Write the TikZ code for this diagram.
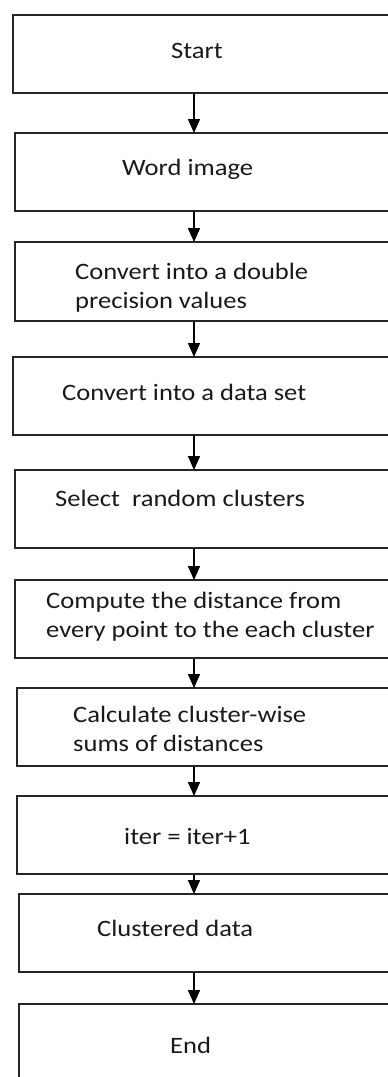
\documentclass[tikz,border=0pt]{standalone}
\usepackage{fontspec}
\setmainfont[FakeStretch=1.13]{Carlito}
\usetikzlibrary{arrows.meta}
\begin{document}
\begin{tikzpicture}[x=1pt,y=-1pt,
  box/.style={draw=black!85, line width=1.8pt, inner sep=0pt, anchor=north west},
  lbl/.style={anchor=base west, inner sep=0pt, font=\fontsize{23.5}{28.5}\selectfont, align=left, text=black!90},
  arr/.style={draw=black, line width=1.5pt, -{Triangle[width=12pt,length=14pt]}, shorten >=-1pt}]
\useasboundingbox (0,0) rectangle (388,1077);
\clip (0,0) rectangle (388,1077);
\coordinate (ax) at (194,0);
% boxes: left, top, height
\node[box, minimum width=390pt, minimum height=78pt] (b1) at (12,14) {};
\node[box, minimum width=390pt, minimum height=78pt] (b2) at (14,132) {};
\node[box, minimum width=390pt, minimum height=79pt] (b3) at (14,241) {};
\node[box, minimum width=390pt, minimum height=78pt] (b4) at (12,356) {};
\node[box, minimum width=390pt, minimum height=78pt] (b5) at (14,469) {};
\node[box, minimum width=390pt, minimum height=78pt] (b6) at (14,579) {};
\node[box, minimum width=390pt, minimum height=78pt] (b7) at (16,687) {};
\node[box, minimum width=390pt, minimum height=78pt] (b8) at (16,795) {};
\node[box, minimum width=390pt, minimum height=78pt] (b9) at (18,893) {};
\node[box, minimum width=390pt, minimum height=100pt] (b10) at (18,1003) {};
% labels (anchor = baseline of last line)
\node[lbl] (t1) at (171,58) {Start};
\node[lbl] (t2) at (122,175) {Word image};
\node[lbl] (t3) at (75,308) {Convert into a double\\precision values};
\node[lbl] (t4) at (62,400) {Convert into a data set};
\node[lbl] (t5) at (55,506) {Select\ \ random clusters};
\node[lbl] (t6) at (46,637) {Compute the distance from\\every point to the each cluster};
\node[lbl] (t7) at (73,751) {Calculate cluster-wise\\sums of distances};
\node[lbl] (t8) at (124,844) {iter = iter+1};
\node[lbl] (t9) at (97,936) {Clustered data};
\node[lbl] (t10) at (170,1053) {End};
% arrows
\foreach \a/\b in {b1/b2,b2/b3,b3/b4,b4/b5,b5/b6,b6/b7,b7/b8,b8/b9,b9/b10}
  \draw[arr] (\a.south -| ax) -- (\b.north -| ax);
\end{tikzpicture}
\end{document}
